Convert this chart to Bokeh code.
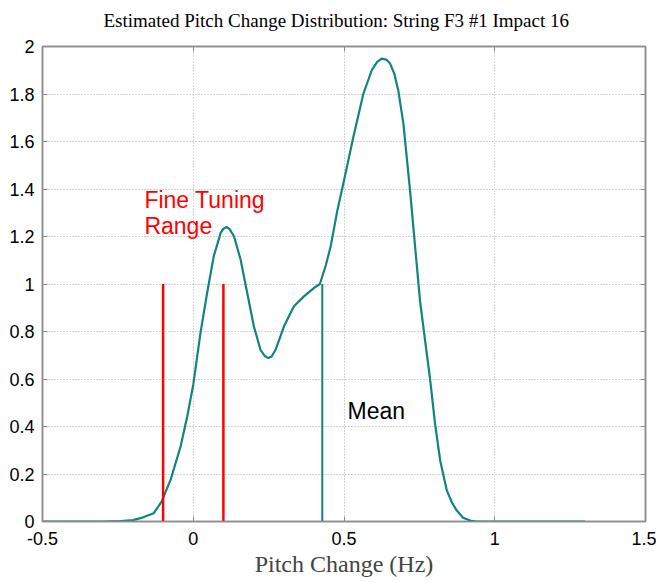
from bokeh.plotting import figure
from bokeh.models import LinearAxis, FixedTicker, Label, Range1d, Title, Grid
from bokeh.embed import file_html
from bokeh.resources import INLINE

# ---- data ----
pitch_change = [-0.5, -0.3, -0.241, -0.2, -0.175, -0.131, -0.105, -0.075, -0.042, -0.02,
                0.0, 0.024, 0.046, 0.068, 0.091, 0.10, 0.11, 0.12, 0.135, 0.157,
                0.179, 0.201, 0.223, 0.237, 0.249, 0.26, 0.273, 0.301, 0.334, 0.367,
                0.400, 0.42, 0.44, 0.456, 0.478, 0.5, 0.531, 0.564, 0.592, 0.61,
                0.625, 0.64, 0.653, 0.667, 0.68, 0.697, 0.719, 0.736, 0.752, 0.769,
                0.786, 0.802, 0.819, 0.841, 0.858, 0.874, 0.895, 0.918, 0.94, 1.0, 1.3]
density = [0, 0, 0.002, 0.006, 0.014, 0.035, 0.084, 0.176, 0.316, 0.442,
           0.576, 0.794, 0.962, 1.117, 1.215, 1.233, 1.240, 1.232, 1.201, 1.103,
           0.962, 0.822, 0.723, 0.697, 0.688, 0.695, 0.723, 0.822, 0.906, 0.948,
           0.983, 1.0, 1.08, 1.16, 1.31, 1.436, 1.619, 1.80, 1.90, 1.935,
           1.949, 1.945, 1.928, 1.885, 1.815, 1.675, 1.394, 1.155, 0.931, 0.762,
           0.594, 0.411, 0.257, 0.131, 0.08, 0.046, 0.016, 0.004, 0, 0, 0]
fine_tuning_range = [-0.1, 0.1]
marker_height = 1.0
mean_value = 0.428
x_ticks = [-0.5, 0, 0.5, 1, 1.5]
x_tick_labels = ["-0.5", "0", "0.5", "1", "1.5"]
y_ticks = [0, 0.2, 0.4, 0.6, 0.8, 1.0, 1.2, 1.4, 1.6, 1.8, 2.0]
y_tick_labels = ["0", "0.2", "0.4", "0.6", "0.8", "1", "1.2", "1.4", "1.6", "1.8", "2"]
title_text = "Estimated Pitch Change Distribution: String F3 #1 Impact 16"

TEAL = "#138382"
RED = "#ff0000"
GRAY = "#8c8c8c"
SANS = "Liberation Sans"
SERIF = "Liberation Serif"

p = figure(width=656, height=580,
           min_border_left=42, min_border_right=11, min_border_top=46, min_border_bottom=59,
           x_range=Range1d(-0.5, 1.5), y_range=Range1d(0, 2),
           output_backend="svg", toolbar_location=None, x_axis_type=None, y_axis_type=None)
p.background_fill_color = "white"
p.border_fill_color = "white"
p.outline_line_color = GRAY
p.outline_line_width = 1.5

def style_axis(ax, ticks, labels, show_labels):
    ax.ticker = FixedTicker(ticks=ticks)
    ax.axis_line_color = GRAY
    ax.axis_line_width = 1.5
    ax.major_tick_line_color = GRAY
    ax.major_tick_in = 5
    ax.major_tick_out = 0
    ax.minor_tick_line_color = None
    ax.major_label_overrides = {t: l for t, l in zip(ticks, labels)}
    ax.major_label_text_font = SANS
    if show_labels:
        ax.major_label_text_color = "black"
        ax.major_label_text_font_size = "18px"
    else:
        ax.major_label_text_color = None
        ax.major_label_text_font_size = "1px"
        ax.major_label_standoff = 0

xb = LinearAxis()
style_axis(xb, x_ticks, x_tick_labels, True)
xb.major_label_standoff = 10
xb.axis_label = "Pitch Change (Hz)"
xb.axis_label_text_font = SERIF
xb.axis_label_text_font_style = "normal"
xb.axis_label_text_font_size = "24px"
xb.axis_label_standoff = 3
p.add_layout(xb, "below")

yl = LinearAxis()
style_axis(yl, y_ticks, y_tick_labels, True)
yl.major_label_standoff = 8
p.add_layout(yl, "left")

xa = LinearAxis()
style_axis(xa, x_ticks, x_tick_labels, False)
p.add_layout(xa, "above")

# invisible spacer axis: only reserves room between the frame and the title
spacer = LinearAxis()
style_axis(spacer, x_ticks, x_tick_labels, False)
spacer.axis_line_color = None
spacer.major_tick_line_color = None
spacer.major_tick_in = 0
spacer.major_tick_out = 11
p.add_layout(spacer, "above")

yr = LinearAxis()
style_axis(yr, y_ticks, y_tick_labels, False)
p.add_layout(yr, "right")

for dim, ticks in ((0, x_ticks), (1, y_ticks)):
    g = Grid(dimension=dim, ticker=FixedTicker(ticks=ticks),
             grid_line_color="#a8a8a8", grid_line_dash="1 2", grid_line_width=1)
    p.add_layout(g, "center")

title = Title(text=title_text, text_font=SERIF, text_font_style="normal",
              text_font_size="19px", align="left", offset=61, text_color="black")
p.add_layout(title, "above")

p.line(pitch_change, density, line_color=TEAL, line_width=2.2, line_join="round")
p.segment(x0=fine_tuning_range, y0=[0, 0], x1=fine_tuning_range,
          y1=[marker_height, marker_height], line_color=RED, line_width=2.5)
p.segment(x0=[mean_value], y0=[0], x1=[mean_value], y1=[marker_height],
          line_color=TEAL, line_width=2)

for txt, yy in (("Fine Tuning", 1.354), ("Range", 1.244)):
    p.add_layout(Label(x=-0.162, y=yy, text=txt, text_color=RED, text_font=SANS,
                       text_font_size="23px", text_baseline="alphabetic"))
p.add_layout(Label(x=0.512, y=0.465, text="Mean", text_color="black", text_font=SANS,
                   text_font_size="23px", text_baseline="alphabetic"))

open("out.html", "w").write(file_html(p, INLINE))
